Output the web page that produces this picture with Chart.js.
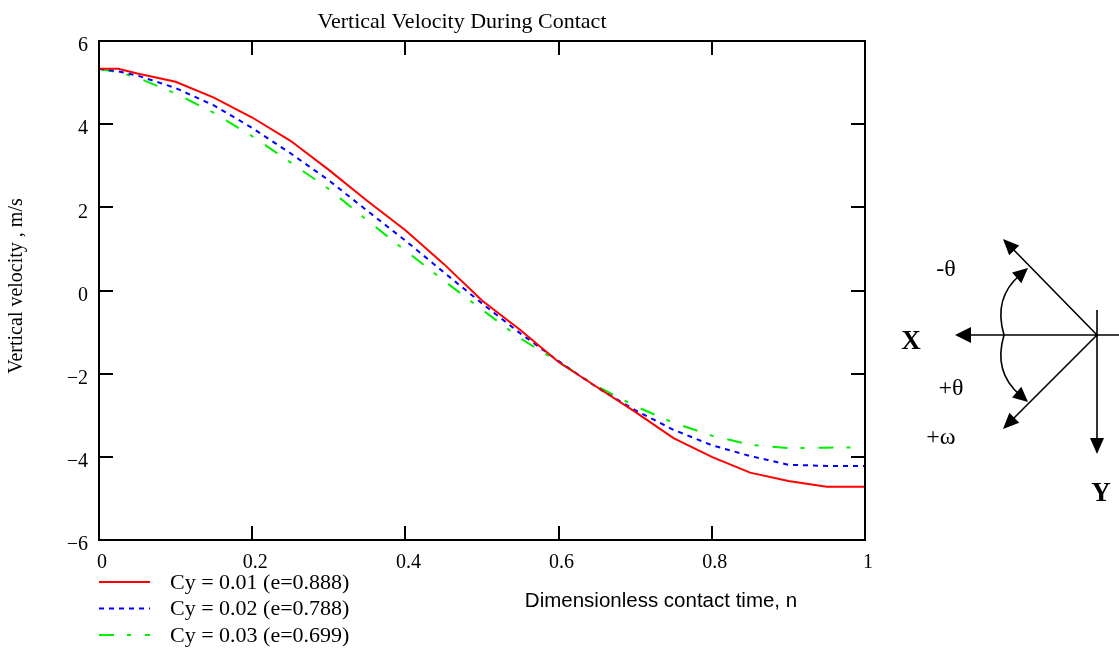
<!DOCTYPE html>
<html lang="en">
<head>
<meta charset="UTF-8">
<title>Vertical Velocity During Contact</title>
<style>
  html, body { margin: 0; padding: 0; background: #fff; }
  #wrap { width: 1119px; height: 650px; }
</style>
</head>
<body>
<div id="wrap"><canvas id="chart" width="1119" height="650"></canvas></div>
<script src="https://cdn.jsdelivr.net/npm/chart.js"></script>
<script>
// dimensionless contact time n
const contactTime = [0, 0.025, 0.05, 0.1, 0.15, 0.2, 0.25, 0.3, 0.35, 0.4, 0.45, 0.5,
                     0.55, 0.6, 0.65, 0.7, 0.75, 0.8, 0.85, 0.9, 0.95, 1];
// vertical velocity, m/s
const cy001 = [5.33, 5.33, 5.22, 5.02, 4.64, 4.16, 3.6, 2.9, 2.16, 1.45, 0.64, -0.24,
               -0.95, -1.72, -2.32, -2.92, -3.55, -4.0, -4.38, -4.58, -4.72, -4.72];
const cy002 = [5.33, 5.27, 5.17, 4.87, 4.45, 3.91, 3.3, 2.65, 1.92, 1.2, 0.44, -0.31,
               -1.03, -1.7, -2.33, -2.88, -3.35, -3.72, -3.98, -4.19, -4.22, -4.22];
const cy003 = [5.33, 5.25, 5.12, 4.74, 4.27, 3.71, 3.08, 2.44, 1.69, 0.96, 0.24, -0.46,
               -1.15, -1.72, -2.3, -2.78, -3.18, -3.49, -3.71, -3.79, -3.78, -3.77];
const seriesLabels = ['Cy = 0.01 (e=0.888)', 'Cy = 0.02 (e=0.788)', 'Cy = 0.03 (e=0.699)'];

const SERIF = "'Liberation Serif', 'Times New Roman', serif";
const SANS = "'Liberation Sans', Arial, sans-serif";

function toPoints(ys) {
    return contactTime.map((n, i) => ({ x: n, y: ys[i] }));
}

function arrowHead(ctx, tx, ty, fx, fy, len, half) {
    const a = Math.atan2(ty - fy, tx - fx);
    ctx.beginPath();
    ctx.moveTo(tx, ty);
    ctx.lineTo(tx - len * Math.cos(a) + half * Math.sin(a), ty - len * Math.sin(a) - half * Math.cos(a));
    ctx.lineTo(tx - len * Math.cos(a) - half * Math.sin(a), ty - len * Math.sin(a) + half * Math.cos(a));
    ctx.closePath();
    ctx.fill();
}

// frame with inward ticks, texts, legend, sign diagram
const decorations = {
    id: 'decorations',
    afterDraw(chart) {
        const ctx = chart.ctx;
        const a = chart.chartArea;
        const xs = chart.scales.x, ys = chart.scales.y;
        ctx.save();
        ctx.strokeStyle = '#000';
        ctx.lineWidth = 2;
        ctx.setLineDash([]);
        ctx.strokeRect(a.left, a.top, a.right - a.left, a.bottom - a.top);
        const tl = 14;
        ctx.beginPath();
        xs.ticks.forEach(t => {
            const px = Math.round(xs.getPixelForValue(t.value));
            ctx.moveTo(px, a.bottom); ctx.lineTo(px, a.bottom - tl);
            ctx.moveTo(px, a.top); ctx.lineTo(px, a.top + tl);
        });
        ys.ticks.forEach(t => {
            const py = Math.round(ys.getPixelForValue(t.value));
            ctx.moveTo(a.left, py); ctx.lineTo(a.left + tl, py);
            ctx.moveTo(a.right, py); ctx.lineTo(a.right - tl, py);
        });
        ctx.stroke();

        ctx.fillStyle = '#000';
        ctx.textAlign = 'center';
        ctx.textBaseline = 'middle';
        ctx.font = '22px ' + SERIF;
        ctx.fillText('Vertical Velocity During Contact', 462, 22);
        ctx.font = '20.5px ' + SANS;
        ctx.fillText('Dimensionless contact time, n', 661, 601);
        ctx.save();
        ctx.translate(17, 286);
        ctx.rotate(-Math.PI / 2);
        ctx.font = '20px ' + SERIF;
        ctx.fillText('Vertical velocity , m/s', 0, 0);
        ctx.restore();

        // legend
        ctx.textAlign = 'left';
        ctx.font = '22px ' + SERIF;
        chart.data.datasets.forEach((ds, i) => {
            const y = 582 + i * 26.5;
            ctx.strokeStyle = ds.borderColor;
            ctx.lineWidth = ds.borderWidth;
            ctx.setLineDash(ds.borderDash || []);
            ctx.beginPath();
            ctx.moveTo(99, y); ctx.lineTo(150, y);
            ctx.stroke();
            ctx.fillStyle = '#000';
            ctx.fillText(ds.label, 170, y + 1);
        });

        // sign convention diagram
        ctx.setLineDash([]);
        ctx.strokeStyle = '#000';
        ctx.fillStyle = '#000';
        ctx.lineWidth = 1.6;
        const ox = 1097, oy = 335;
        ctx.beginPath();
        ctx.moveTo(1119, oy); ctx.lineTo(962, oy);
        ctx.moveTo(ox, 310); ctx.lineTo(ox, 446);
        ctx.moveTo(ox, oy); ctx.lineTo(1008, 244);
        ctx.moveTo(ox, oy); ctx.lineTo(1008, 424);
        ctx.stroke();
        arrowHead(ctx, 955, oy, ox, oy, 16, 8);
        arrowHead(ctx, ox, 454, ox, oy, 16, 7);
        arrowHead(ctx, 1003, 239, ox, oy, 16, 7);
        arrowHead(ctx, 1003, 429, ox, oy, 16, 7);
        ctx.beginPath();
        ctx.moveTo(1004, oy);
        ctx.quadraticCurveTo(993, 298, 1020, 275);
        ctx.moveTo(1004, oy);
        ctx.quadraticCurveTo(993, 372, 1020, 395);
        ctx.stroke();
        arrowHead(ctx, 1028, 268, 1012, 282, 15, 7);
        arrowHead(ctx, 1028, 402, 1012, 388, 15, 7);

        ctx.textAlign = 'center';
        ctx.font = '24px ' + SERIF;
        ctx.fillText('-\u03b8', 946, 270);
        ctx.fillText('+\u03b8', 951, 389);
        ctx.fillText('+\u03c9', 941, 438);
        ctx.font = 'bold 27px ' + SERIF;
        ctx.fillText('X', 911, 342);
        ctx.fillText('Y', 1101, 494);
        ctx.restore();
    }
};

new Chart(document.getElementById('chart'), {
    type: 'line',
    data: {
        datasets: [
            { label: seriesLabels[0], data: toPoints(cy001), borderColor: '#ff0000', borderWidth: 2, borderDash: [] },
            { label: seriesLabels[1], data: toPoints(cy002), borderColor: '#0000ff', borderWidth: 2, borderDash: [5, 5] },
            { label: seriesLabels[2], data: toPoints(cy003), borderColor: '#00ee00', borderWidth: 2, borderDash: [15, 13, 4, 14] }
        ]
    },
    options: {
        responsive: false,
        animation: false,
        devicePixelRatio: 1,
        elements: { point: { radius: 0 }, line: { tension: 0, fill: false } },
        layout: { padding: { left: 0, top: 41, right: 254, bottom: 0 } },
        plugins: { legend: { display: false }, title: { display: false }, tooltip: { enabled: false } },
        scales: {
            x: {
                type: 'linear', min: 0, max: 1,
                grid: { display: false }, border: { display: false },
                afterFit: s => { s.height = 110; },
                ticks: {
                    stepSize: 0.2, padding: 3, labelOffset: 3, color: '#000',
                    font: { family: SERIF, size: 20 },
                    callback: v => String(+v.toFixed(1))
                }
            },
            y: {
                min: -6, max: 6,
                grid: { display: false }, border: { display: false },
                afterFit: s => { s.width = 99; },
                ticks: {
                    stepSize: 2, padding: 3, labelOffset: 5, color: '#000',
                    font: { family: SERIF, size: 20 },
                    callback: v => v < 0 ? '\u2212' + Math.abs(v) : String(v)
                }
            }
        }
    },
    plugins: [decorations]
});
</script>
</body>
</html>
